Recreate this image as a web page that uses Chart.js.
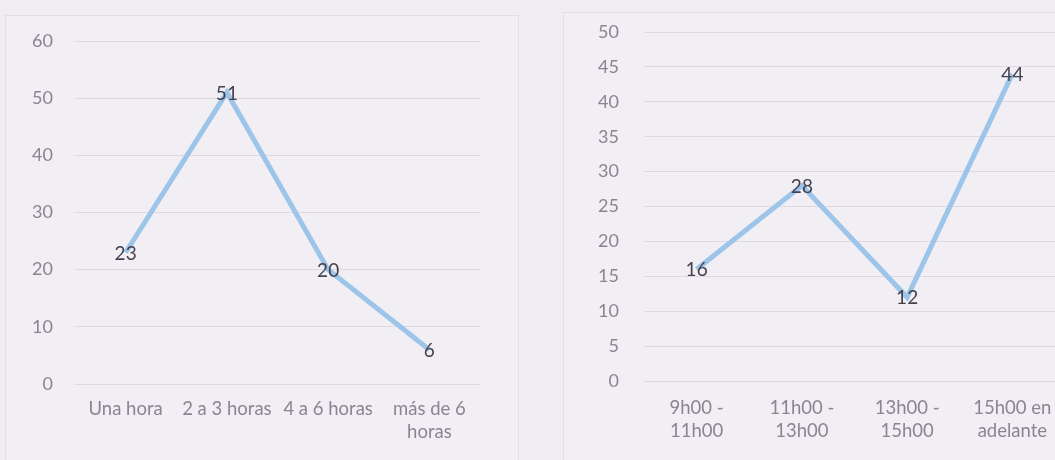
<!DOCTYPE html>
<html>
<head>
<meta charset="utf-8">
<script src="https://cdn.jsdelivr.net/npm/chart.js@4"></script>
<style>
  html, body { margin:0; padding:0; background:#efedf1; width:1055px; height:460px; overflow:hidden; position:relative; }
  .box { position:absolute; border:1px solid #e1dee4; background:#f1eff3; }
  #boxA { left:5px; top:15px; width:512px; height:450px; }
  #boxB { left:563px; top:12px; width:520px; height:452px; }
  canvas { display:block; }
</style>
</head>
<body>
<div class="box" id="boxA"><canvas id="chartA" width="512" height="445"></canvas></div>
<div class="box" id="boxB"><canvas id="chartB" width="520" height="448"></canvas></div>
<script>
// chart 1: horas
const horasLabels = ["Una hora", "2 a 3 horas", "4 a 6 horas", ["más de 6", "horas"]];
const horasValues = [23, 51, 20, 6];
const horasMax = 60;
const horasStep = 10;

// chart 2: franja horaria
const franjaLabels = [["9h00 -", "11h00"], ["11h00 -", "13h00"], ["13h00 -", "15h00"], ["15h00 en", "adelante"]];
const franjaValues = [16, 28, 12, 44];
const franjaMax = 50;
const franjaStep = 5;

const lineColor = "#9cc5e9";
const tickColor = "#8a8592";
const labelColor = "#45414f";
const gridColor = "#dcd9df";
const fontFamily = "Lato, 'Open Sans', sans-serif";

// value labels centered on the points, like excel "center"
const centerLabels = {
  id: "centerLabels",
  afterDatasetsDraw(chart) {
    const ctx = chart.ctx;
    const meta = chart.getDatasetMeta(0);
    ctx.save();
    ctx.font = "19px " + fontFamily;
    ctx.fillStyle = labelColor;
    ctx.textAlign = "center";
    ctx.textBaseline = "middle";
    meta.data.forEach((pt, i) => {
      ctx.fillText(chart.data.datasets[0].data[i], pt.x, pt.y + 1);
    });
    ctx.restore();
  }
};

function makeChart(id, labels, values, max, step, yWidth, xHeight, pad, xPad, yPad) {
  return new Chart(document.getElementById(id).getContext("2d"), {
    type: "line",
    data: { labels, datasets: [{
      data: values,
      borderColor: lineColor,
      borderWidth: 5,
      pointRadius: 0,
      tension: 0,
      fill: false
    }]},
    options: {
      responsive: false,
      animation: false,
      layout: { padding: pad },
      plugins: { legend: { display: false }, tooltip: { enabled: false } },
      scales: {
        x: {
          offset: true,
          grid: { display: false },
          border: { display: false },
          ticks: { color: tickColor, font: { family: fontFamily, size: 18.5, lineHeight: 1.25 }, padding: xPad, maxRotation: 0, autoSkip: false },
          afterFit(s) { s.height = xHeight; s.paddingLeft = 0; s.paddingRight = 0; }
        },
        y: {
          min: 0, max: max,
          grid: { color: gridColor, drawTicks: false },
          border: { display: false },
          ticks: { stepSize: step, color: tickColor, font: { family: fontFamily, size: 18 }, padding: yPad },
          afterFit(s) { s.width = yWidth; s.paddingTop = 0; s.paddingBottom = 0; }
        }
      }
    },
    plugins: [centerLabels]
  });
}

makeChart("chartA", horasLabels, horasValues, horasMax, horasStep, 69, 77, { top: 25, right: 38, left: 0, bottom: 0 }, 5, 22);
makeChart("chartB", franjaLabels, franjaValues, franjaMax, franjaStep, 80, 80, { top: 19, right: 19, left: 0, bottom: 0 }, 7, 25);
</script>
</body>
</html>
